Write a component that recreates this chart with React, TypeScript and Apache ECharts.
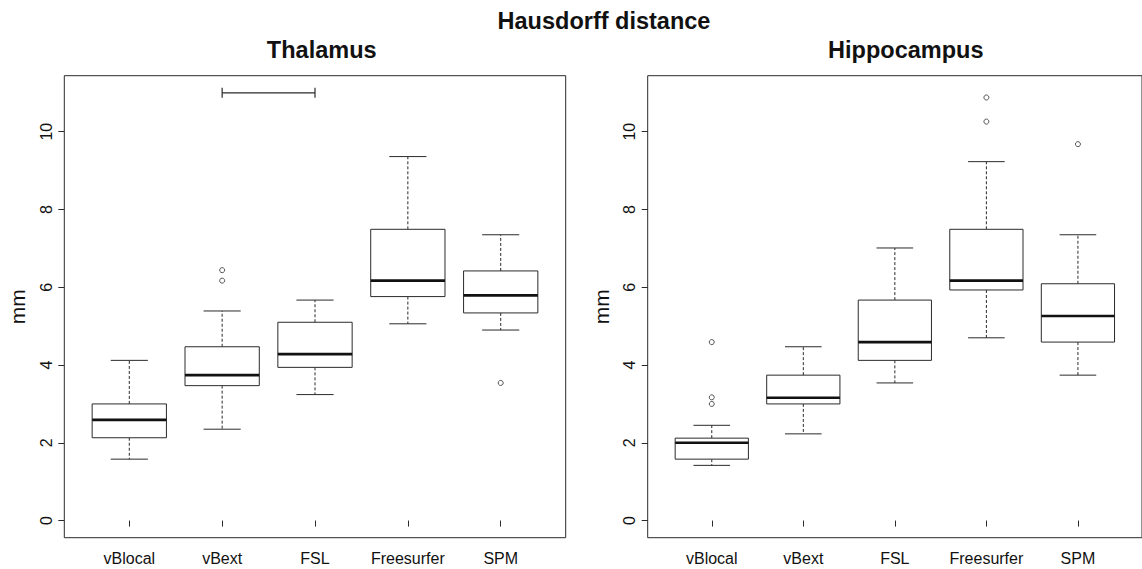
import React, { useEffect, useRef } from "react";
import * as echarts from "echarts";

const categories = ["vBlocal", "vBext", "FSL", "Freesurfer", "SPM"];
const yTicks = [0, 2, 4, 6, 8, 10];

// [low whisker, Q1, median, Q3, high whisker]
const thalamusBoxes = [
  [1.58, 2.13, 2.59, 3.0, 4.12],
  [2.35, 3.47, 3.74, 4.47, 5.39],
  [3.24, 3.94, 4.28, 5.1, 5.67],
  [5.06, 5.76, 6.17, 7.49, 9.36],
  [4.9, 5.34, 5.79, 6.42, 7.35],
];
// [category index (1-based), value]
const thalamusOutliers = [
  [2, 6.44],
  [2, 6.17],
  [5, 3.54],
];
// [from category, to category, level]
const thalamusBracket = [[2, 3, 11]];

const hippoBoxes = [
  [1.42, 1.58, 2.0, 2.12, 2.45],
  [2.23, 3.0, 3.16, 3.74, 4.47],
  [3.54, 4.12, 4.59, 5.67, 7.01],
  [4.7, 5.93, 6.17, 7.49, 9.23],
  [3.74, 4.59, 5.26, 6.09, 7.35],
];
const hippoOutliers = [
  [1, 4.59],
  [1, 3.17],
  [1, 3.0],
  [4, 10.88],
  [4, 10.26],
  [5, 9.68],
];

const LINE = "#2a2a2a";
const FONT = "Liberation Sans, Arial, Helvetica, sans-serif";

function boxRender(params: any, api: any) {
  const x = api.value(0);
  const low = api.value(1);
  const q1 = api.value(2);
  const med = api.value(3);
  const q3 = api.value(4);
  const high = api.value(5);
  const halfBox = api.size([0.4, 0])[0];
  const halfCap = api.size([0.2, 0])[0];
  const c = (v: number) => api.coord([x, v]);
  const pLow = c(low);
  const pQ1 = c(q1);
  const pMed = c(med);
  const pQ3 = c(q3);
  const pHigh = c(high);
  const cx = pMed[0];
  const dashStyle = { stroke: LINE, lineWidth: 1, lineDash: [3, 2], fill: null };
  const solid = { stroke: LINE, lineWidth: 1, fill: null };
  return {
    type: "group",
    children: [
      { type: "line", shape: { x1: cx, y1: pQ3[1], x2: cx, y2: pHigh[1] }, style: dashStyle },
      { type: "line", shape: { x1: cx, y1: pQ1[1], x2: cx, y2: pLow[1] }, style: dashStyle },
      { type: "line", shape: { x1: cx - halfCap, y1: pHigh[1], x2: cx + halfCap, y2: pHigh[1] }, style: solid },
      { type: "line", shape: { x1: cx - halfCap, y1: pLow[1], x2: cx + halfCap, y2: pLow[1] }, style: solid },
      {
        type: "rect",
        shape: { x: cx - halfBox, y: pQ3[1], width: 2 * halfBox, height: pQ1[1] - pQ3[1] },
        style: { stroke: LINE, lineWidth: 1, fill: "#ffffff" },
      },
      {
        type: "line",
        shape: { x1: cx - halfBox, y1: pMed[1], x2: cx + halfBox, y2: pMed[1] },
        style: { stroke: "#111", lineWidth: 2.6, fill: null },
      },
    ],
  };
}

function bracketRender(params: any, api: any) {
  const a = api.coord([api.value(0), api.value(2)]);
  const b = api.coord([api.value(1), api.value(2)]);
  const solid = { stroke: LINE, lineWidth: 1.2, fill: null };
  return {
    type: "group",
    children: [
      { type: "line", shape: { x1: a[0], y1: a[1], x2: b[0], y2: b[1] }, style: solid },
      { type: "line", shape: { x1: a[0], y1: a[1] - 5, x2: a[0], y2: a[1] + 5 }, style: solid },
      { type: "line", shape: { x1: b[0], y1: b[1] - 5, x2: b[0], y2: b[1] + 5 }, style: solid },
    ],
  };
}

function makeXAxis(gridIndex: number) {
  return {
    type: "value",
    gridIndex,
    min: 0.3,
    max: 5.7,
    splitLine: { show: false },
    axisLine: { show: false },
    axisTick: { show: true, length: 6, customValues: [1, 2, 3, 4, 5], lineStyle: { color: LINE, width: 1 } },
    axisLabel: {
      customValues: [1, 2, 3, 4, 5],
      formatter: (v: number) => categories[Math.round(v) - 1] || "",
      color: "#111",
      fontSize: 16,
      fontFamily: FONT,
      margin: 13,
    },
  };
}

function makeYAxis(gridIndex: number) {
  return {
    type: "value",
    gridIndex,
    min: -0.44,
    max: 11.44,
    name: "mm",
    nameLocation: "middle",
    nameGap: 36,
    nameTextStyle: { fontSize: 21, color: "#111", fontFamily: FONT },
    splitLine: { show: false },
    axisLine: { show: false },
    axisTick: { show: true, length: 6, customValues: yTicks, lineStyle: { color: LINE, width: 1 } },
    axisLabel: {
      customValues: yTicks,
      rotate: 90,
      color: "#111",
      fontSize: 16,
      fontFamily: FONT,
      margin: 10,
    },
  };
}

const toBoxData = (boxes: number[][]) => boxes.map((b, i) => [i + 1, ...b]);

export default function App() {
  const ref = useRef<HTMLDivElement>(null);
  useEffect(() => {
    if (!ref.current) return;
    const chart = echarts.init(ref.current, null, { renderer: "svg" });
    chart.setOption({
      animation: false,
      backgroundColor: "#ffffff",
      grid: [
        { left: 64.3, top: 75.7, width: 501.4, height: 462, show: true, borderColor: LINE, borderWidth: 1, backgroundColor: "transparent" },
        { left: 647.7, top: 75.7, width: 501.4, height: 462, show: true, borderColor: LINE, borderWidth: 1, backgroundColor: "transparent" },
      ],
      xAxis: [makeXAxis(0), makeXAxis(1)],
      yAxis: [makeYAxis(0), makeYAxis(1)],
      graphic: [
        {
          type: "text",
          x: 604,
          y: 20.5,
          style: { text: "Hausdorff distance", font: `bold 23.5px ${FONT}`, fill: "#111", align: "center", verticalAlign: "middle" },
        },
        {
          type: "text",
          x: 321.7,
          y: 50,
          style: { text: "Thalamus", font: `bold 23.5px ${FONT}`, fill: "#111", align: "center", verticalAlign: "middle" },
        },
        {
          type: "text",
          x: 905.8,
          y: 50,
          style: { text: "Hippocampus", font: `bold 23.5px ${FONT}`, fill: "#111", align: "center", verticalAlign: "middle" },
        },
      ],
      series: [
        {
          type: "custom",
          xAxisIndex: 0,
          yAxisIndex: 0,
          renderItem: boxRender,
          data: toBoxData(thalamusBoxes),
          encode: { x: 0, y: [1, 2, 3, 4, 5] },
        },
        {
          type: "scatter",
          xAxisIndex: 0,
          yAxisIndex: 0,
          data: thalamusOutliers,
          symbol: "circle",
          symbolSize: 5,
          itemStyle: { color: "#ffffff", borderColor: LINE, borderWidth: 1 },
        },
        {
          type: "custom",
          xAxisIndex: 0,
          yAxisIndex: 0,
          renderItem: bracketRender,
          data: thalamusBracket,
          encode: { x: [0, 1], y: 2 },
        },
        {
          type: "custom",
          xAxisIndex: 1,
          yAxisIndex: 1,
          renderItem: boxRender,
          data: toBoxData(hippoBoxes),
          encode: { x: 0, y: [1, 2, 3, 4, 5] },
        },
        {
          type: "scatter",
          xAxisIndex: 1,
          yAxisIndex: 1,
          data: hippoOutliers,
          symbol: "circle",
          symbolSize: 5,
          itemStyle: { color: "#ffffff", borderColor: LINE, borderWidth: 1 },
        },
      ],
    });
    return () => chart.dispose();
  }, []);
  return (
    <div
      ref={ref}
      style={{ position: "fixed", left: 0, top: 0, width: 1142, height: 569, background: "#fff" }}
    />
  );
}
